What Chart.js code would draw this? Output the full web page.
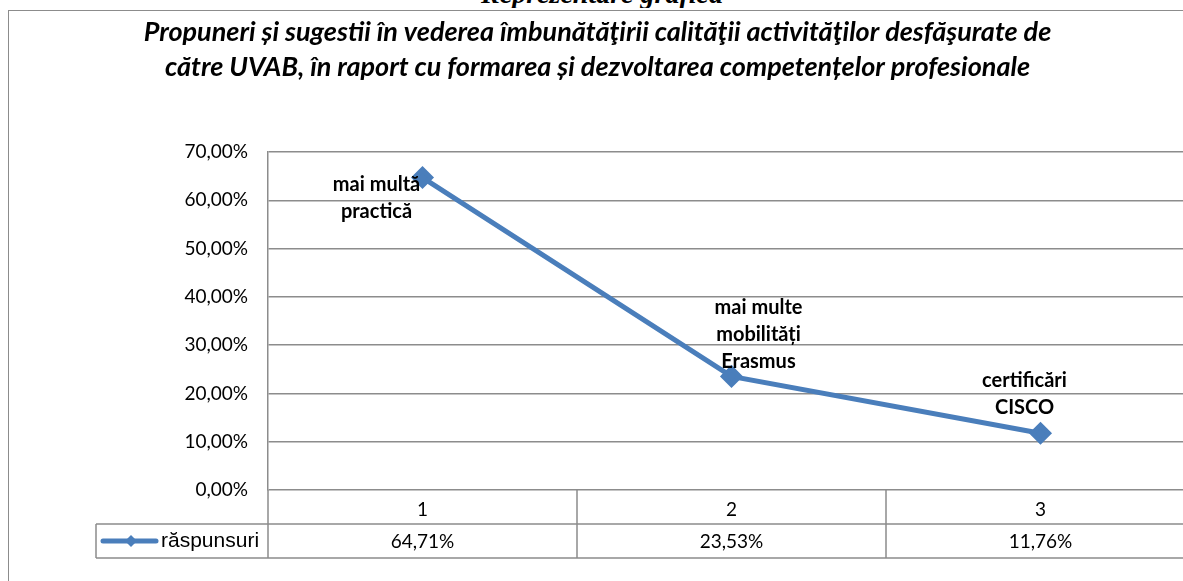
<!DOCTYPE html>
<html lang="ro">
<head>
    <meta charset="UTF-8">
    <title>Propuneri și sugestii</title>
    <script src="https://cdn.jsdelivr.net/npm/chart.js"></script>
    <style>
        html, body {
            margin: 0;
            background: #fff;
            overflow: hidden;
            width: 1183px;
            height: 581px;
        }
        .sus {
            position: absolute;
            left: 0;
            top: 0;
            width: 1204px;
            height: 8px;
            overflow: hidden;
        }
        .sus div {
            margin-top: -20px;
            text-align: center;
            font: italic bold 28px/28px "Liberation Serif", serif;
            color: #000;
        }
        .rama {
            position: absolute;
            left: 8px;
            top: 10px;
            width: 1300px;
            height: 700px;
            border: 1.5px solid #8c8c8c;
        }
        #grafic {
            position: absolute;
            left: 0;
            top: 0;
        }
    </style>
</head>
<body>
    <div class="sus"><div>Reprezentare grafică</div></div>
    <div class="rama"></div>
    <canvas id="grafic" width="1215" height="581"></canvas>

    <script>
        // date
        const categorii = ['1', '2', '3'];
        const raspunsuri = [0.6471, 0.2353, 0.1176];
        const etichete = [
            ['mai multă', 'practică'],
            ['mai multe', 'mobilități', 'Erasmus'],
            ['certificări', 'CISCO']
        ];
        const numeSerie = 'răspunsuri';
        const titlu = [
            'Propuneri și sugestii în vederea îmbunătăţirii calităţii activităţilor desfăşurate de',
            'către UVAB, în raport cu formarea și dezvoltarea competențelor profesionale'
        ];

        const albastru = '#4a7ebb';
        const gri = '#8c8c8c';
        const fontText = 'Lato, "Open Sans", sans-serif';

        function procent(v) {
            return (v * 100).toFixed(2).replace('.', ',') + '%';
        }

        // etichetele de date (pozitia fata de punct)
        const pozEtichete = [[-46, 7], [27, -69], [-16, -53]];
        const etichetePlugin = {
            id: 'etichete',
            afterDatasetsDraw(chart) {
                const ctx = chart.ctx;
                const meta = chart.getDatasetMeta(0);
                ctx.save();
                ctx.font = 'bold 20px ' + fontText;
                ctx.fillStyle = '#000';
                ctx.textAlign = 'center';
                ctx.textBaseline = 'middle';
                meta.data.forEach((p, i) => {
                    etichete[i].forEach((linie, j) => {
                        ctx.fillText(linie, p.x + pozEtichete[i][0], p.y + pozEtichete[i][1] + j * 27);
                    });
                });
                ctx.restore();
            }
        };

        // tabelul de date de sub axa
        const tabelPlugin = {
            id: 'tabel',
            afterDraw(chart) {
                const ctx = chart.ctx;
                const x = chart.scales.x;
                const a = chart.chartArea;
                const y0 = a.bottom, y1 = y0 + 34, y2 = y0 + 68;
                const w = chart.width;
                const pas = x.getPixelForValue(1) - x.getPixelForValue(0);
                ctx.save();
                ctx.strokeStyle = gri;
                ctx.lineWidth = 1.5;
                ctx.beginPath();
                ctx.moveTo(96, y1); ctx.lineTo(w, y1);
                ctx.moveTo(96, y2); ctx.lineTo(w, y2);
                ctx.moveTo(96, y1); ctx.lineTo(96, y2);
                ctx.moveTo(a.left, y0); ctx.lineTo(a.left, y2);
                for (let i = 1; i < categorii.length; i++) {
                    const xb = x.getPixelForValue(i) - pas / 2;
                    ctx.moveTo(xb, y0); ctx.lineTo(xb, y2);
                }
                ctx.stroke();

                ctx.fillStyle = '#000';
                ctx.font = '19px ' + fontText;
                ctx.textAlign = 'center';
                ctx.textBaseline = 'middle';
                raspunsuri.forEach((v, i) => {
                    ctx.fillText(procent(v), x.getPixelForValue(i), (y1 + y2) / 2 + 1);
                });

                // legenda
                const yl = (y1 + y2) / 2;
                ctx.strokeStyle = albastru;
                ctx.lineWidth = 5;
                ctx.lineCap = 'round';
                ctx.beginPath();
                ctx.moveTo(103, yl); ctx.lineTo(156, yl);
                ctx.stroke();
                ctx.fillStyle = albastru;
                ctx.beginPath();
                ctx.moveTo(131, yl - 6); ctx.lineTo(137, yl); ctx.lineTo(131, yl + 6); ctx.lineTo(125, yl);
                ctx.closePath();
                ctx.fill();
                ctx.fillStyle = '#000';
                ctx.textAlign = 'left';
                ctx.font = '21px "Liberation Sans", Arial, sans-serif';
                ctx.fillText(numeSerie, 161, yl);
                ctx.restore();
            }
        };

        const ctx = document.getElementById('grafic').getContext('2d');
        const grafic = new Chart(ctx, {
            type: 'line',
            data: {
                labels: categorii,
                datasets: [{
                    label: numeSerie,
                    data: raspunsuri,
                    borderColor: albastru,
                    backgroundColor: albastru,
                    borderWidth: 5,
                    pointStyle: 'rectRot',
                    pointRadius: 8,
                    pointHoverRadius: 8,
                    tension: 0
                }]
            },
            options: {
                responsive: false,
                animation: false,
                layout: {
                    padding: { left: 0, right: 20, top: 0, bottom: 23 }
                },
                plugins: {
                    legend: { display: false },
                    tooltip: { enabled: false },
                    title: {
                        display: true,
                        text: titlu,
                        color: '#000',
                        font: {
                            family: fontText,
                            size: 27,
                            weight: 'bold',
                            style: 'italic',
                            lineHeight: '35px'
                        },
                        padding: { top: 15, bottom: 67 }
                    }
                },
                scales: {
                    x: {
                        offset: true,
                        grid: { display: false },
                        border: { display: false },
                        ticks: {
                            color: '#000',
                            padding: 0,
                            font: { family: fontText, size: 19 }
                        },
                        afterFit(scale) { scale.height = 68; }
                    },
                    y: {
                        min: 0,
                        max: 0.7,
                        ticks: {
                            stepSize: 0.1,
                            color: '#000',
                            padding: 20,
                            font: { family: fontText, size: 19 },
                            callback: v => procent(v)
                        },
                        grid: {
                            color: gri,
                            lineWidth: 1.5,
                            drawTicks: false
                        },
                        border: { color: gri, width: 1.5 },
                        afterFit(scale) { scale.width = 268; }
                    }
                }
            },
            plugins: [etichetePlugin, tabelPlugin]
        });
    </script>
</body>
</html>
